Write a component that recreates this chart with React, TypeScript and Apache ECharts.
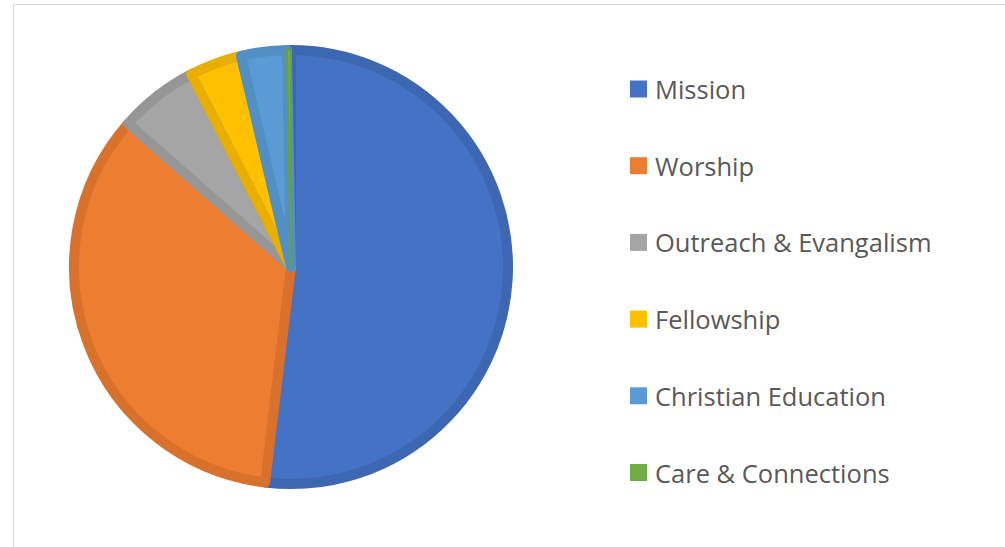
import React, { useEffect, useRef } from "react";
import * as echarts from "echarts";

const categories = ["Mission", "Worship", "Outreach & Evangalism", "Fellowship", "Christian Education", "Care & Connections"];
const values = [51.9, 34.6, 5.9, 3.9, 3.4, 0.3];
const fillColors = ["#4472C4", "#ED7D31", "#A5A5A5", "#FFC000", "#5B9BD5", "#70AD47"];
const borderColors = ["#3E67B2", "#D7712C", "#969696", "#E8AE00", "#5290C3", "#66A040"];
const borderWidths = [10, 10, 10, 10, 10, 2];

export default function App() {
  const ref = useRef<HTMLDivElement>(null);
  useEffect(() => {
    if (!ref.current) return;
    const chart = echarts.init(ref.current, null, { renderer: "svg" });
    chart.setOption({
      animation: false,
      backgroundColor: "#ffffff",
      graphic: [
        {
          type: "rect",
          shape: { x: 13.5, y: 4.5, width: 1010, height: 560 },
          style: { fill: "none", stroke: "#d9d9d9", lineWidth: 1 },
          silent: true,
        },
      ],
      legend: {
        orient: "vertical",
        left: 630,
        top: 76,
        padding: 0,
        itemWidth: 17,
        itemHeight: 17,
        itemGap: 50.7,
        icon: "rect",
        itemStyle: { borderWidth: 0 },
        textStyle: { color: "#595959", fontSize: 25.5, lineHeight: 24, fontFamily: "Open Sans", padding: [0, 0, 0, 3] },
        data: categories,
      },
      series: [
        {
          type: "pie",
          center: [291, 267],
          radius: 217,
          startAngle: 90,
          clockwise: true,
          label: { show: false },
          labelLine: { show: false },
          emphasis: { disabled: true },
          data: categories.map((c, i) => ({
            name: c,
            value: values[i],
            itemStyle: { color: fillColors[i], borderColor: borderColors[i], borderWidth: borderWidths[i] },
          })),
        },
      ],
    });
    return () => chart.dispose();
  }, []);
  return <div ref={ref} style={{ position: "fixed", left: 0, top: 0, width: 1005, height: 547 }} />;
}
